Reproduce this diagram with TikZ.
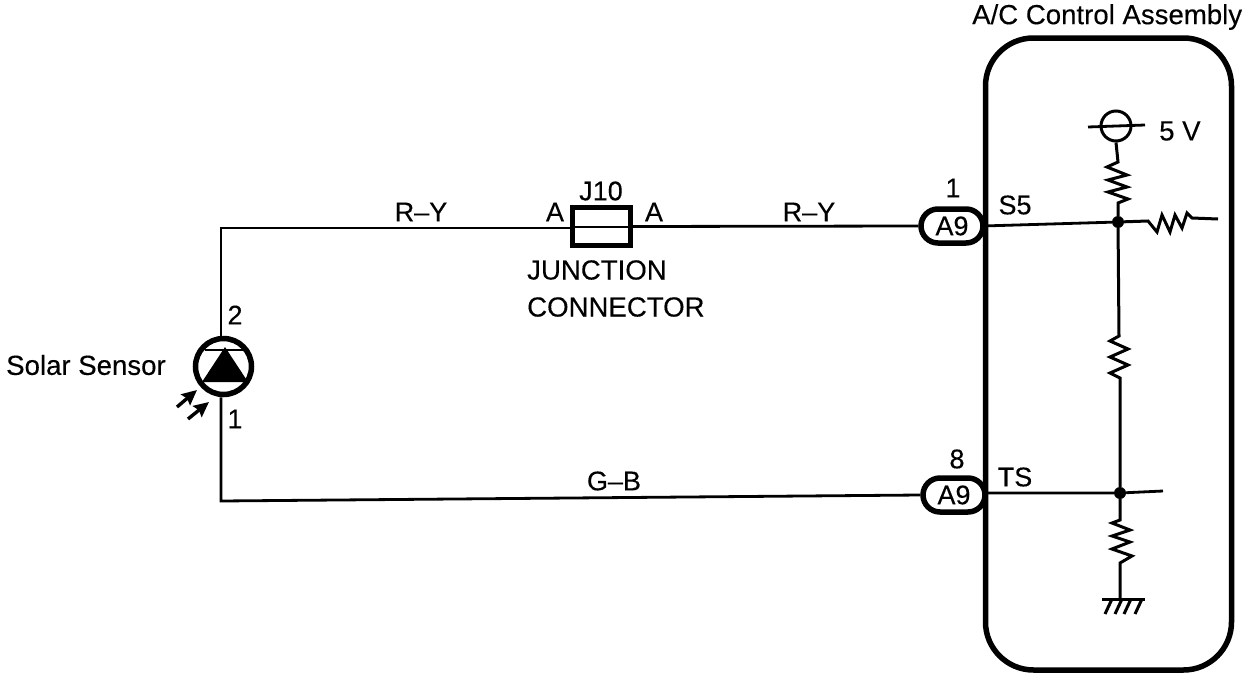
\documentclass[tikz,border=0pt]{standalone}
\usepackage{fontspec}
\setmainfont{Liberation Sans}[FakeBold=0.25]
\usetikzlibrary{arrows.meta}
\tikzset{
 wire/.style={line width=2.8pt,black},
 thick box/.style={line width=5.5pt,black},
 lbl/.style={inner sep=0pt,font=\fontsize{27.6}{27.6}\selectfont,text=black},
 pin/.style={inner sep=0pt,font=\fontsize{27}{27}\selectfont,text=black},
 plug/.style={draw,line width=5.5pt,rounded corners=17pt,minimum width=62pt,minimum height=34pt,inner sep=0pt,font=\fontsize{27}{27}\selectfont,fill=white},
 res/.style={line width=3pt,line join=miter},
 dot/.style={circle,fill=black,inner sep=0pt,minimum size=12pt},
 ray/.style={line width=3.4pt,-{Stealth[length=15pt,width=14pt,inset=2pt]}}
}
\begin{document}
\begin{tikzpicture}[x=1pt,y=-1pt]
\useasboundingbox (0,0) rectangle (1248,680);
% control assembly
\node[draw,thick box,rounded corners=48pt,minimum width=246pt,minimum height=632pt,inner sep=0pt] (ecu) at (1108.5,354) {};
\node[lbl,anchor=west] (ecuT) at (972,17) {A/C Control Assembly};
% left sensor
\node[circle,draw,line width=5.5pt,minimum size=56pt,inner sep=0pt] (sens) at (223.5,366.5) {};
\fill (202,382) -- (225,347) -- (248,382) -- cycle;
\draw[line width=2.6pt] (205,350) -- (245,350);
\node[lbl,anchor=west] (sensT) at (6,365) {Solar Sensor};
\node[pin] (p2) at (235,315) {2};
\node[pin] (p1) at (235,419) {1};
\coordinate (r1a) at (177,407); \coordinate (r1b) at (197,390);
\coordinate (r2a) at (188,419); \coordinate (r2b) at (209,402);
\draw[ray] (r1a) -- (r1b);
\draw[ray] (r2a) -- (r2b);
% plugs
\node[plug] (a1) at (952,226) {A9};
\node[plug] (a8) at (954,495) {A9};
\node[pin] (n1) at (953,188) {1};
\node[pin] (n8) at (957,459) {8};
% J10
\node[draw,line width=5pt,minimum width=58pt,minimum height=38pt,inner sep=0pt] (j) at (601.5,226.5) {};
\node[pin] (jT) at (601,191) {J10};
\node[pin] (jA) at (555,212) {A};
\node[pin] (jB) at (654,212) {A};
\node[lbl,anchor=west] (jc1) at (527,270) {JUNCTION};
\node[lbl,anchor=west] (jc2) at (527,307) {CONNECTOR};
% wires
\coordinate (c1) at (221,228); \coordinate (c2) at (221,501);
\draw[wire] (sens.north -| c1) -- (c1) -- (j.west |- c1);
\draw[wire] (sens.south -| c1) -- (c2) -- (a8.west);
\draw[line width=2pt] (j.west) -- (j.east);
\draw[wire] (j.east) -- (a1.west);
\node[pin] (w1) at (421,212) {R–Y};
\node[pin] (w2) at (809,212) {R–Y};
\node[pin] (w3) at (614,481) {G–B};
% inside
\node[circle,draw,line width=3pt,minimum size=30pt,inner sep=0pt] (v) at (1116,126) {};
\coordinate (vl) at (1088,127); \coordinate (vr) at (1145,125);
\draw[line width=2.8pt] (vl) -- (vr);
\node[lbl,anchor=west] (vT) at (1159,131) {5 V};
\node[dot] (d1) at (1118,222) {};
\node[dot] (d2) at (1120,493) {};
\node[pin] (s5) at (1015,205) {S5};
\node[pin] (ts) at (1015,477) {TS};
\coordinate (e1) at (1218,219); \coordinate (e2) at (1163,491);
\coordinate (g) at (1120,598);
\draw[wire] (ecu.west |- a1) -- (d1);
\draw[wire] (ecu.west |- d2) -- (d2) -- (e2);
% top resistor
\draw[res] (v.south) -- (1118,162) -- (1107,167) -- (1127,175) -- (1108,180) -- (1127,187) -- (1108,192) -- (1128,199) -- (1118,203) -- (d1);
% right resistor
\draw[res] (d1) -- (1148,221) -- (1157,232) -- (1162,215) -- (1170,232) -- (1175,215) -- (1182,228) -- (1187,213) -- (1192,218) -- (e1);
% mid resistor
\draw[res] (d1) -- (1119,336) -- (1110,341) -- (1128,349) -- (1110,357) -- (1128,365) -- (1110,373) -- (1120,378) -- (d2);
% lower resistor
\draw[res] (d2) -- (1120,520) -- (1112,523) -- (1130,530) -- (1112,536) -- (1130,542) -- (1112,549) -- (1132,556) -- (1120,563) -- (g);
% ground
\draw[line width=3pt] (1102,599) -- (1145,599);
\foreach \x in {1112,1122,1131,1142}{\draw[line width=3pt] (\x,599) -- (\x-7,614);}
\end{tikzpicture}
\end{document}
